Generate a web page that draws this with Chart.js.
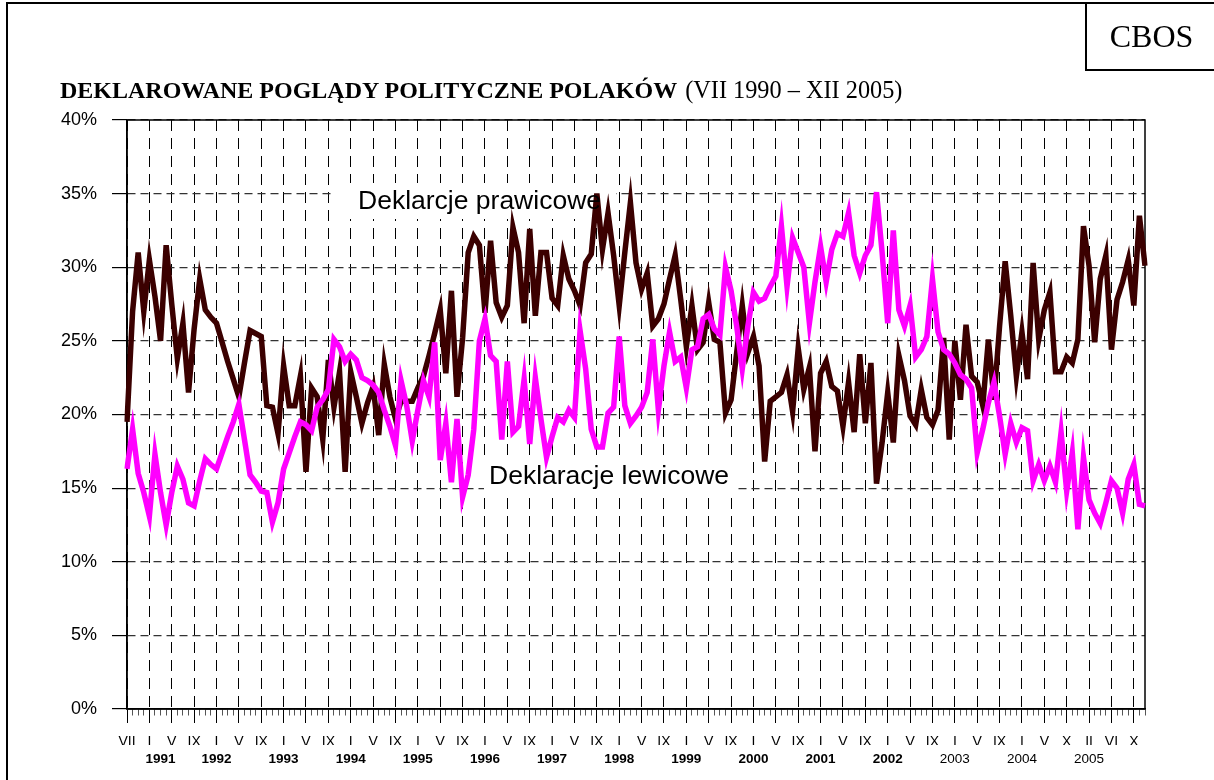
<!DOCTYPE html>
<html lang="pl">
<head>
<meta charset="utf-8">
<title>Deklarowane poglądy polityczne Polaków</title>
<script src="https://cdn.jsdelivr.net/npm/chart.js@4.4.1/dist/chart.umd.min.js"></script>
<style>
    html, body { margin: 0; padding: 0; background: #fff; }
    body { position: relative; width: 1214px; height: 780px; overflow: hidden; font-family: "Liberation Sans", Arial, sans-serif; color: #000; }
    #chart-wrap { position: absolute; left: 0; top: 0; width: 1214px; height: 780px; }
    .frame-left { position: absolute; left: 6px; top: 2px; width: 2px; height: 778px; background: #000; }
    .frame-top { position: absolute; left: 6px; top: 2px; width: 1208px; height: 2px; background: #000; }
    .cbos {
        position: absolute; left: 1085px; top: 3px; width: 129px; height: 66px;
        border-left: 2px solid #000; border-bottom: 2px solid #000;
        font-family: "Liberation Serif", "Times New Roman", serif; font-size: 32px;
        line-height: 66px; text-align: center;
    }
    .title {
        position: absolute; left: 60px; top: 78px; white-space: nowrap;
        font-family: "Liberation Serif", "Times New Roman", serif; font-size: 24px; line-height: 24px;
    }
    .title span { font-size: 24.3px; margin-left: 8px; }
    .note { position: absolute; font-size: 26.5px; line-height: 26.5px; white-space: nowrap; }
</style>
</head>
<body>
<div id="chart-wrap"><canvas id="main-chart"></canvas></div>
<div class="frame-left"></div>
<div class="frame-top"></div>
<div class="cbos">CBOS</div>
<div class="title"><b>DEKLAROWANE POGLĄDY POLITYCZNE POLAKÓW</b><span>(VII 1990 – XII 2005)</span></div>
<div class="note" style="left:358px; top:187px;">Deklarcje prawicowe</div>
<div class="note" style="left:489px; top:462px;">Deklaracje lewicowe</div>

<script>
// =======================================================
// Dane (%, kolejne badania VII 1990 - XII 2005)
// =======================================================

// podpisy miesięcy co 4 badania
const monthTicks = ['VII',
    'I', 'V', 'IX', 'I', 'V', 'IX', 'I', 'V', 'IX', 'I', 'V', 'IX', 'I', 'V', 'IX',   // 1991-1995
    'I', 'V', 'IX', 'I', 'V', 'IX', 'I', 'V', 'IX', 'I', 'V', 'IX', 'I', 'V', 'IX',   // 1996-2000
    'I', 'V', 'IX', 'I', 'V', 'IX', 'I', 'V', 'IX',                                    // 2001-2003
    'I', 'V', 'X', 'II', 'VI', 'X'];                                                   // 2004-2005

const yearTicks = ['1991', '1992', '1993', '1994', '1995', '1996', '1997', '1998',
    '1999', '2000', '2001', '2002', '2003', '2004', '2005'];
const lastBoldYear = 2002;

const percentTicks = [0, 5, 10, 15, 20, 25, 30, 35, 40];

// Deklaracje prawicowe
const rightWing = [
    19.5, 27, 31, 27, 30.5, 28, 25, 31.5, 27.5, 23.8,
    26.2, 21.5, 25.8, 29.2, 27.1, 26.6, 26.2, 24.9, 23.6, 22.4,
    21.2, 23.5, 25.7, 25.5, 25.3, 20.6, 20.5, 18.7, 23.3, 20.6,
    20.6, 22.6, 16.1, 21.8, 21.2, 18.3, 23.7, 20.5, 22.9, 16.1,
    22.9, 21.2, 19.4, 20.8, 21.9, 18.6, 23.4, 21.2, 19.7, 20.9,
    20.9, 20.9, 21.8, 22.6, 24, 25.5, 27.1, 22.8, 28.4, 21.2,
    25.2, 31, 32.1, 31.5, 26.9, 31.8, 27.6, 26.6, 27.4, 32.7,
    31, 26.2, 32.6, 26.7, 31, 31, 27.9, 27.4, 30.8, 29.2,
    28.4, 27.4, 30.3, 30.9, 35, 31.2, 33.7, 30.8, 27.4, 31,
    34.4, 30.3, 28.5, 29.6, 26, 26.5, 27.5, 29.2, 30.8, 27.8,
    24.6, 27.4, 24.4, 24.9, 27.6, 25.1, 24.9, 20.1, 21, 24.2,
    27.4, 24.2, 25.3, 23.3, 16.8, 20.9, 21.2, 21.5, 22.7, 20.2,
    24.5, 21.7, 23.2, 17.5, 22.8, 23.6, 21.9, 21.6, 19.2, 22.2,
    18.8, 24.1, 19.4, 23.5, 15.3, 18.1, 21.5, 18.1, 24, 22.3,
    19.9, 19.3, 21.7, 19.8, 19.3, 20.3, 25.2, 18.3, 25, 21,
    26.1, 22.6, 22.2, 20.6, 25.1, 21, 26, 30.4, 26.7, 22.6,
    25.6, 22.4, 30.3, 25.1, 27.1, 28.3, 22.9, 22.9, 23.9, 23.5,
    25.1, 32.8, 30.1, 24.9, 29.2, 30.8, 24.4, 27.8, 29, 30.5,
    27.4, 33.5, 30.1
];

// Deklaracje lewicowe
const leftWing = [
    16.3, 19, 16, 14.7, 13.1, 17.3, 14.7, 12.5, 14.7, 16.5,
    15.6, 14, 13.8, 15.5, 17, 16.6, 16.3, 17.4, 18.5, 19.5,
    20.7, 18.3, 15.9, 15.4, 14.8, 14.7, 12.7, 14, 16.3, 17.4,
    18.5, 19.5, 19.3, 18.9, 20.5, 21, 21.7, 25.1, 24.6, 23.6,
    24.1, 23.7, 22.5, 22.3, 22, 21.5, 20.3, 19.2, 17.9, 22.3,
    20.6, 18.2, 20.3, 22.3, 21.2, 24.9, 16.9, 19.4, 15.4, 19.7,
    14.4, 15.9, 19, 25, 26.5, 24, 23.6, 18.3, 23.6, 18.8,
    19.2, 22.4, 18, 22.5, 19.7, 17.1, 18.5, 19.8, 19.5, 20.3,
    19.8, 25.7, 23.1, 19, 17.8, 17.8, 20.1, 20.5, 25.3, 20.6,
    19.4, 19.9, 20.5, 21.5, 25.1, 20.3, 23.3, 25.6, 23.6, 23.9,
    21.8, 24.4, 24.6, 26.5, 26.8, 25.8, 25.4, 30, 28.4, 26,
    23.1, 26, 28.3, 27.7, 27.9, 28.7, 29.4, 32.8, 28.7, 32,
    31, 30, 26.2, 29, 31.4, 29, 31.2, 32.3, 32.1, 33.7,
    30.8, 29.6, 30.8, 31.5, 35.1, 31, 26.2, 32.5, 27.1, 26,
    27.4, 23.9, 24.4, 25.3, 29.2, 25.6, 24.4, 24.1, 23.5, 22.7,
    22.4, 21.8, 17.4, 19, 20.8, 22.2, 19.9, 17.3, 19.4, 18.1,
    19.1, 18.9, 15.5, 16.6, 15.5, 16.5, 15.4, 18.8, 14.8, 17.4,
    12.2, 17.1, 14.2, 13.3, 12.6, 14, 15.5, 15, 13.3, 15.6,
    16.6, 13.9, 13.8
];

// =======================================================
// Kategorie osi X (co 4. badanie ma podpis)
// =======================================================
const STEP = 4;
const FIRST_YEAR_SHIFT = 2;   // "1991" stoi w oryginale między I a V

const categories = rightWing.map((_, i) => (i % STEP === 0 && monthTicks[i / STEP]) || '');
const yearCategories = rightWing.map(() => '');
yearTicks.forEach((year, k) => {
    let i = (1 + 3 * k) * STEP;          // tick "I" (albo "II" w 2005)
    if (k === 0) i += FIRST_YEAR_SHIFT;
    yearCategories[i] = year;
});
const isMajor = (i) => i % STEP === 0 && i / STEP < monthTicks.length;

// białe tło pod opisami serii (zasłania siatkę)
const noteBoxes = [
    [334, 183, 282, 36],
    [484, 461, 251, 34]
];

const BROWN = '#3b0000';
const PINK = '#ff00ff';
const FONT = '"Liberation Sans", Arial, sans-serif';

Chart.defaults.font.family = FONT;
Chart.defaults.color = '#000';

const paperPlugin = {
    id: 'paper',
    beforeDatasetsDraw(chart) {
        const { ctx, chartArea: a } = chart;
        ctx.save();
        ctx.fillStyle = '#fff';
        noteBoxes.forEach(b => ctx.fillRect(b[0], b[1], b[2], b[3]));
        ctx.strokeStyle = '#000';
        ctx.lineWidth = 1.5;
        ctx.strokeRect(a.left, a.top, a.right - a.left, a.bottom - a.top);
        ctx.restore();
    }
};

const chartCanvas = document.getElementById('main-chart');

new Chart(chartCanvas, {
    type: 'line',
    data: {
        labels: categories,
        datasets: [
            {
                label: 'Deklaracje lewicowe',
                data: leftWing,
                xAxisID: 'x',
                borderColor: PINK,
                borderWidth: 5.5,
                borderJoinStyle: 'miter',
                pointRadius: 0,
                tension: 0,
                order: 0
            },
            {
                label: 'Deklarcje prawicowe',
                data: rightWing,
                xAxisID: 'x',
                borderColor: BROWN,
                borderWidth: 5.5,
                borderJoinStyle: 'miter',
                pointRadius: 0,
                tension: 0,
                order: 1
            }
        ]
    },
    options: {
        responsive: true,
        maintainAspectRatio: false,
        animation: false,
        layout: { padding: { left: 57, top: 120, right: 69, bottom: 11 } },
        plugins: {
            legend: { display: false },
            tooltip: { enabled: false }
        },
        scales: {
            x: {
                type: 'category',
                position: 'bottom',
                offset: false,
                weight: 0,
                afterFit: (s) => { s.height = 36; },
                grid: {
                    color: (c) => isMajor(c.index) ? '#000' : 'rgba(0,0,0,0)',
                    lineWidth: 1,
                    tickLength: 14,
                    tickWidth: 1,
                    tickColor: (c) => isMajor(c.index) ? '#000' : '#555',
                    tickBorderDash: (c) => isMajor(c.index) ? [] : [6, 40]
                },
                border: { display: true, color: '#000', width: 1.5, dash: [11, 7] },
                ticks: {
                    autoSkip: false,
                    maxRotation: 0,
                    minRotation: 0,
                    padding: 11,
                    color: '#000',
                    font: { family: FONT, size: 14 }
                }
            },
            xYear: {
                type: 'category',
                position: 'bottom',
                labels: yearCategories,
                offset: false,
                weight: 1,
                afterFit: (s) => { s.height = 24; },
                grid: { display: false, drawTicks: false, drawOnChartArea: false },
                border: { display: false },
                ticks: {
                    autoSkip: false,
                    maxRotation: 0,
                    minRotation: 0,
                    padding: 6,
                    color: '#000',
                    font: (c) => {
                        const y = parseInt(yearCategories[c.index], 10);
                        return { family: FONT, size: 13.5, weight: y <= lastBoldYear ? 'bold' : 'normal' };
                    }
                }
            },
            y: {
                min: percentTicks[0],
                max: percentTicks[percentTicks.length - 1],
                afterFit: (s) => { s.width = 70; },
                grid: {
                    color: '#333',
                    lineWidth: 1.2,
                    tickLength: 15,
                    tickColor: '#000',
                    tickWidth: 1.2
                },
                border: { display: true, color: '#000', width: 1.5, dash: [8, 5] },
                ticks: {
                    stepSize: percentTicks[1] - percentTicks[0],
                    padding: 15,
                    color: '#000',
                    font: { family: FONT, size: 18 },
                    callback: (v) => v + '%'
                }
            }
        }
    },
    plugins: [paperPlugin]
});
</script>
</body>
</html>
